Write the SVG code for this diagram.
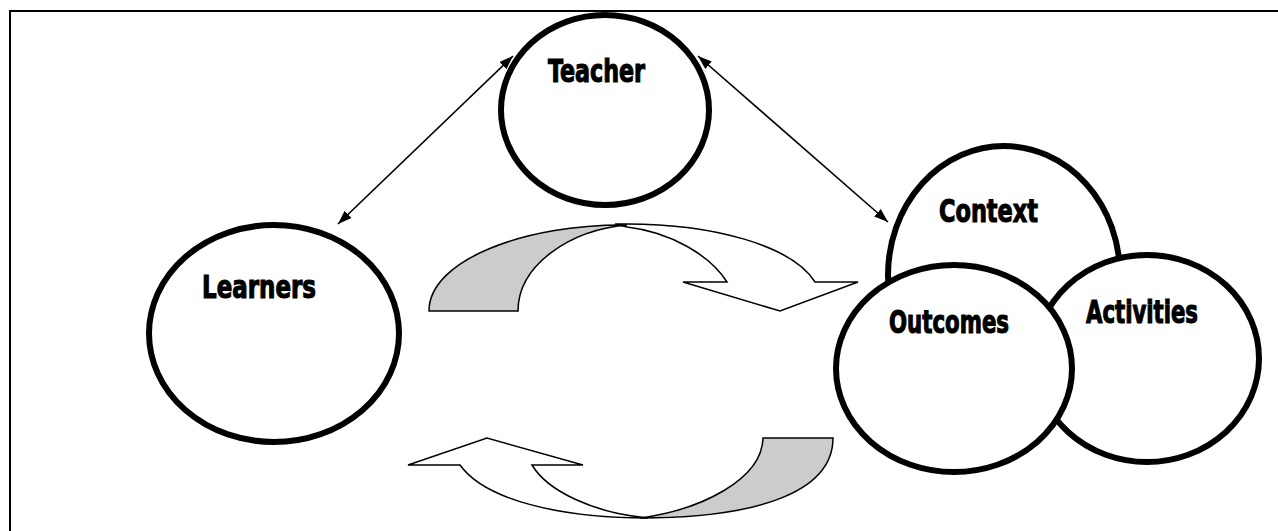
<svg xmlns="http://www.w3.org/2000/svg" width="1278" height="531" viewBox="0 0 1278 531">
<style>
.node{fill:#fff;stroke:#000;stroke-width:6}
.lbl{font-family:"Liberation Sans Narrow","DejaVu Sans Condensed","Liberation Sans",sans-serif;font-weight:bold;font-size:32px;fill:#000;stroke:#000;stroke-width:1.1}
.conn{stroke:#000;stroke-width:1.6;fill:none}
.blk{stroke:#000;stroke-width:1.5;stroke-linejoin:miter}
</style>
<defs>
<marker id="ah" viewBox="0 0 14 10" refX="14" refY="5" markerWidth="14" markerHeight="10" markerUnits="userSpaceOnUse" orient="auto-start-reverse">
<path d="M0,0 L14,5 L0,10 Z" fill="#000"/>
</marker>
</defs>
<rect width="1278" height="531" fill="#fff"/>
<path d="M10,540 V11 H1290" fill="none" stroke="#000" stroke-width="2"/>

<g id="block-arrows">
<path class="blk" fill="#fff" d="M615,224 C715,222 793,247 815,282 L858,282 L780,311 L683,282 L727,282 C710,255 670,232 627,227 Z"/>
<path class="blk" fill="#cccccc" d="M429,311 C429,260 525,224 627,225 C570,230 518,265 518,311 Z"/>
<path class="blk" fill="#fff" d="M648,518 C560,518 485,500 460,465 L408,465 L487,438 L583,465 L532,465 C548,492 595,512 640,517 Z"/>
<path class="blk" fill="#cccccc" d="M833,438 C833,495 750,518 640,518 C700,510 762,480 763,438 Z"/>
</g>

<g id="connectors">
<line class="conn" x1="513" y1="56" x2="338" y2="224" marker-start="url(#ah)" marker-end="url(#ah)"/>
<line class="conn" x1="698" y1="56" x2="888" y2="222" marker-start="url(#ah)" marker-end="url(#ah)"/>
</g>

<g id="teacher">
<ellipse class="node" cx="605" cy="110" rx="104" ry="95"/>
<text class="lbl" x="548" y="82" textLength="97" lengthAdjust="spacingAndGlyphs">Teacher</text>
</g>
<g id="learners">
<ellipse class="node" cx="274" cy="333.5" rx="125" ry="108.5"/>
<text class="lbl" x="202" y="298" textLength="114" lengthAdjust="spacingAndGlyphs">Learners</text>
</g>
<g id="context">
<ellipse class="node" cx="1004" cy="275" rx="116" ry="129"/>
<text class="lbl" x="939" y="222" textLength="99" lengthAdjust="spacingAndGlyphs">Context</text>
</g>
<g id="activities">
<ellipse class="node" cx="1147" cy="358.5" rx="112" ry="103.5"/>
<text class="lbl" x="1086" y="323" textLength="112" lengthAdjust="spacingAndGlyphs">Activities</text>
</g>
<g id="outcomes">
<ellipse class="node" cx="954" cy="368.5" rx="118" ry="103.5"/>
<text class="lbl" x="889" y="333" textLength="120" lengthAdjust="spacingAndGlyphs">Outcomes</text>
</g>
</svg>
